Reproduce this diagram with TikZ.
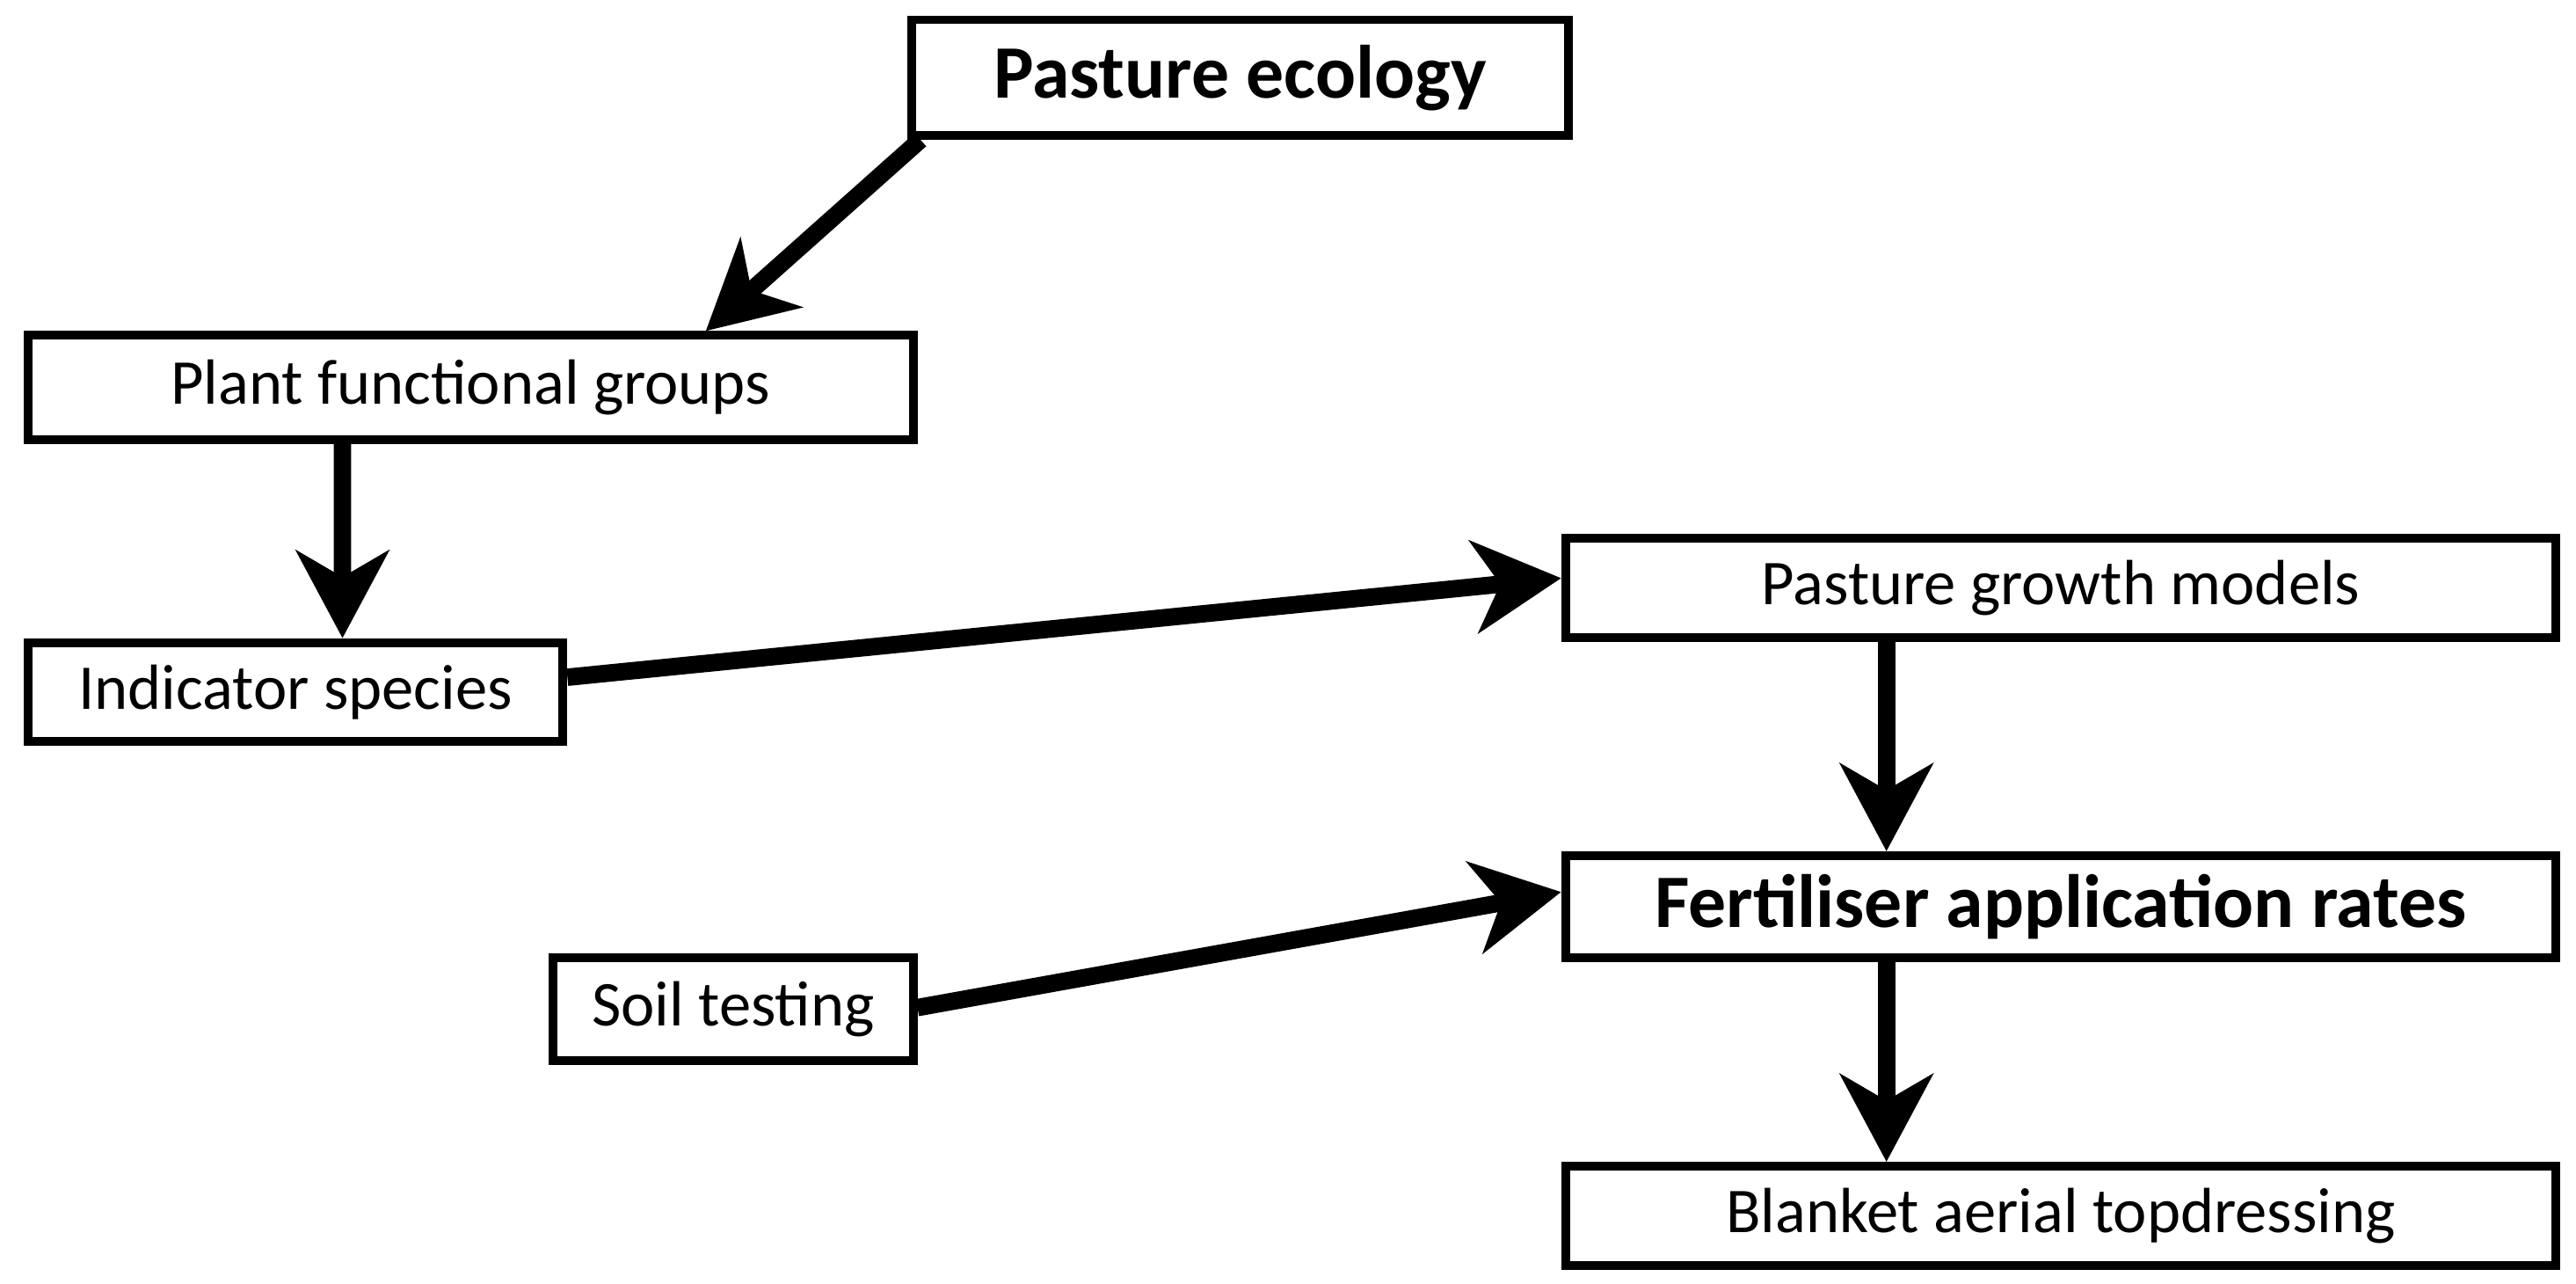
\documentclass[tikz,border=0pt]{standalone}
\usepackage{fontspec}
\setmainfont{Carlito}
\usetikzlibrary{arrows.meta,calc}
\begin{document}
\begin{tikzpicture}[x=0.02cm,y=-0.02cm,
  box/.style={draw,line width=3pt,rectangle,inner sep=0pt,font=\fontsize{22}{26}\selectfont},
  big/.style={font=\fontsize{26}{30}\selectfont\bfseries},
  arr/.style={line width=6pt,-{Stealth[length=1.06cm,width=1.12cm,inset=0.32cm]}}]
\useasboundingbox (0,0) rectangle (1560,777);
\node[box,big,minimum width=7.96cm,minimum height=1.4cm] (pe) at (751,47) {Pasture ecology};
\node[box,minimum width=10.72cm,minimum height=1.26cm] (pfg) at (285,234.5) {Plant functional groups};
\node[box,minimum width=6.48cm,minimum height=1.2cm] (is) at (179,419) {Indicator species};
\node[box,minimum width=12cm,minimum height=1.2cm] (pgm) at (1248,356) {Pasture growth models};
\node[box,big,minimum width=12cm,minimum height=1.24cm] (far) at (1248,549) {Fertiliser application rates};
\node[box,minimum width=4.36cm,minimum height=1.24cm] (st) at (444,611) {Soil testing};
\node[box,minimum width=12cm,minimum height=1.2cm] (bat) at (1248,736) {Blanket aerial topdressing};
\draw[arr] ($(pe.south west)+(8,0)$) -- ($(pfg.north west)+(413,0)$);
\draw[arr] ($(pfg.south west)+(193,0)$) -- ($(is.north west)+(193,0)$);
\draw[arr] ($(is.east)+(0,-9)$) -- ($(pgm.west)+(0,-6)$);
\draw[arr] ($(pgm.south west)+(197,0)$) -- ($(far.north west)+(197,0)$);
\draw[arr] ($(st.east)+(0,-1)$) -- ($(far.west)+(0,-9)$);
\draw[arr] ($(far.south west)+(197,0)$) -- ($(bat.north west)+(197,0)$);
\end{tikzpicture}
\end{document}
